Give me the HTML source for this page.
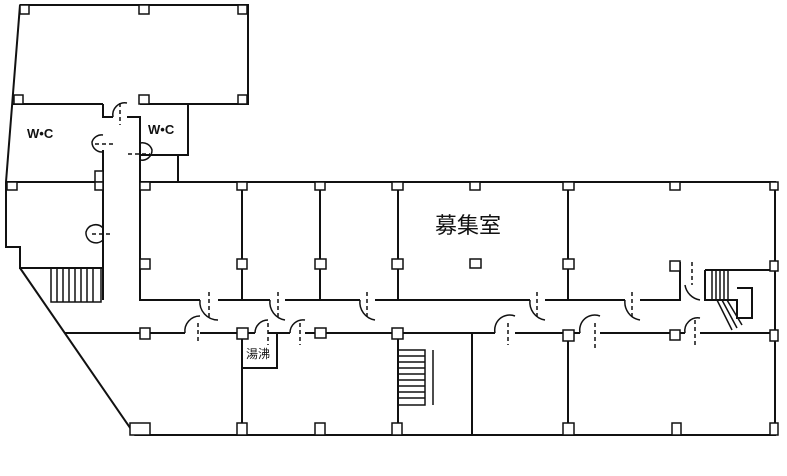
<!DOCTYPE html>
<html><head><meta charset="utf-8"><style>body{margin:0;background:#fff}svg{display:block}</style></head><body>
<svg width="787" height="476" viewBox="0 0 787 476" xmlns="http://www.w3.org/2000/svg">
<g fill="none" stroke="#111" stroke-width="2">
<!-- top block -->
<path d="M20 5 H248 V104 H140 M103 104 H12 M20 5 L6 182 V247 H20 V268 H103"/>
<path d="M103 104 V117 H113 M127 117 H140 V300 H200 M218 300 H242 V300"/>
<path d="M103 150 V300 M103 182 H6"/>
<path d="M140 155 H188 V104 M178 155 V182"/>
<path d="M140 182 H775 V435 H135 L20 268"/>
<!-- corridor walls -->
<path d="M242 300 H270 M285 300 H360 M375 300 H530 M545 300 H625 M640 300 H680 V262 M680 285 V300"/>
<path d="M65 333 H185 M200 333 H255 M268 333 H290 M305 333 H495 M515 333 H580 M600 333 H685 M700 333 H775"/>
<path d="M242 182 V300 M320 182 V300 M398 182 V300 M568 182 V300"/>
<path d="M242 333 V435 M398 333 V435 M472 333 V435 M568 333 V435"/>
<path d="M242 333 V368 H277 V333"/>
<path d="M705 270 H775 M705 270 V300 H737 V318 H752 V288 H737"/>
</g>
<!-- doors -->
<g fill="none" stroke="#111" stroke-width="1.5">
<path d="M113 117 A12 12 0 0 1 127 103"/>
<path d="M103 135 A10 10 0 0 0 92 142 A10 10 0 0 0 103 152"/>
<path d="M140 143 A10 10 0 0 1 152 150 A10 10 0 0 1 140 160"/>
<path d="M103 228 A10 10 0 0 0 86 232 A10 10 0 0 0 103 240"/>
<path d="M200 300 A18 18 0 0 0 218 320"/>
<path d="M270 300 A18 18 0 0 0 285 320"/>
<path d="M360 300 A18 18 0 0 0 375 320"/>
<path d="M530 300 A18 18 0 0 0 545 320"/>
<path d="M625 300 A18 18 0 0 0 640 320"/>
<path d="M685 285 A18 18 0 0 0 700 300"/>
<path d="M185 333 A15 15 0 0 1 200 316"/>
<path d="M255 333 A13 13 0 0 1 268 320"/>
<path d="M290 333 A13 13 0 0 1 305 320"/>
<path d="M495 333 A15 15 0 0 1 515 316"/>
<path d="M580 333 A15 15 0 0 1 600 316"/>
<path d="M685 333 A13 13 0 0 1 700 318"/>
</g>
<g stroke="#111" stroke-width="1.5" stroke-dasharray="4,3">
<path d="M120 103 V125 M95 144 H115 M128 154 H150 M92 234 H112 M209 292 V318 M278 292 V318 M367 292 V318 M537 292 V318 M632 292 V318 M692 262 V285 M198 323 V342 M268 323 V345 M300 323 V345 M508 323 V345 M595 323 V350 M695 320 V345"/>
</g>
<!-- stairs -->
<g stroke="#111" stroke-width="1.5">
<rect x="51" y="268" width="50" height="34" fill="none"/>
<path d="M57 268V302M63 268V302M69 268V302M75 268V302M81 268V302M87 268V302M93 268V302"/>
<rect x="398" y="350" width="27" height="55" fill="none"/>
<path d="M398 356H425M398 362H425M398 368H425M398 374H425M398 380H425M398 386H425M398 392H425M398 398H425M433 350V405"/>
<path d="M712 270V300M716 270V300M720 270V300M724 270V300M728 270V300M717 300L732 330M722 300L737 328M727 300L742 325"/>
</g>
<!-- columns -->
<g fill="#fff" stroke="#111" stroke-width="1.5">
<rect x="20" y="5" width="9" height="9"/><rect x="139" y="5" width="10" height="9"/><rect x="238" y="5" width="9" height="9"/>
<rect x="14" y="95" width="9" height="9"/><rect x="139" y="95" width="10" height="9"/><rect x="238" y="95" width="9" height="9"/>
<rect x="95" y="171" width="8" height="11"/>
<rect x="7" y="182" width="10" height="8"/><rect x="95" y="182" width="8" height="8"/>
<rect x="140" y="182" width="10" height="8"/><rect x="237" y="182" width="10" height="8"/><rect x="315" y="182" width="10" height="8"/><rect x="392" y="182" width="11" height="8"/><rect x="470" y="182" width="10" height="8"/><rect x="563" y="182" width="11" height="8"/><rect x="670" y="182" width="10" height="8"/><rect x="770" y="182" width="8" height="8"/>
<rect x="140" y="259" width="10" height="10"/><rect x="237" y="259" width="10" height="10"/><rect x="315" y="259" width="11" height="10"/><rect x="392" y="259" width="11" height="10"/><rect x="470" y="259" width="11" height="9"/><rect x="563" y="259" width="11" height="10"/><rect x="670" y="261" width="10" height="10"/><rect x="770" y="261" width="8" height="10"/>
<rect x="140" y="328" width="10" height="11"/><rect x="237" y="328" width="11" height="11"/><rect x="315" y="328" width="11" height="10"/><rect x="392" y="328" width="11" height="11"/><rect x="563" y="330" width="11" height="11"/><rect x="670" y="330" width="10" height="10"/><rect x="770" y="330" width="8" height="11"/>
<rect x="130" y="423" width="20" height="12"/><rect x="237" y="423" width="10" height="12"/><rect x="315" y="423" width="10" height="12"/><rect x="392" y="423" width="10" height="12"/><rect x="563" y="423" width="11" height="12"/><rect x="672" y="423" width="9" height="12"/><rect x="770" y="423" width="8" height="12"/>
</g>
<g font-family="'Liberation Sans','Noto Sans CJK JP',sans-serif" fill="#111">
<text x="27" y="138" font-size="13" font-weight="bold">W•C</text>
<text x="148" y="134" font-size="13" font-weight="bold">W•C</text>
<text x="435" y="233" font-size="22">募集室</text>
<text x="246" y="358" font-size="12">湯沸</text>
</g>
</svg>
</body></html>
